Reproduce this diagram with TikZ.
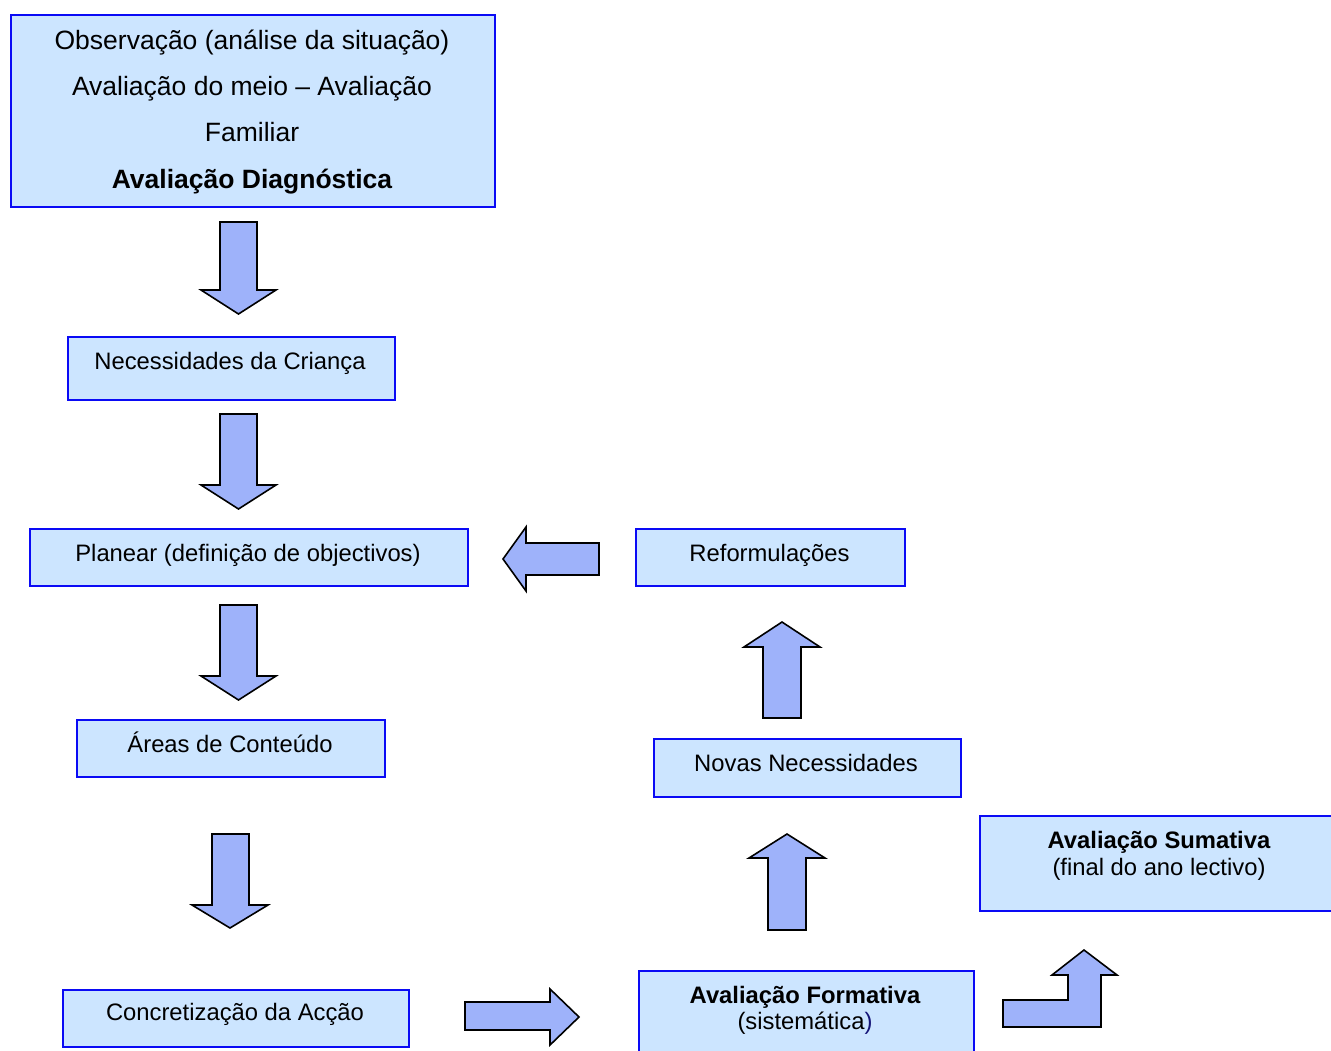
\documentclass[tikz,border=0pt]{standalone}
\usepackage{fontspec}
\setmainfont{Liberation Sans}
\definecolor{boxfill}{RGB}{204,229,255}
\definecolor{boxline}{RGB}{10,10,245}
\definecolor{arrowfill}{RGB}{158,178,250}
\definecolor{navyblue}{RGB}{20,20,120}
\tikzset{
  box/.style={draw=boxline, fill=boxfill, line width=1.8pt, anchor=north west, inner sep=0pt},
  blockarrow/.style={draw=black, fill=arrowfill, line width=1.6pt, line join=miter},
  lbl/.style={inner sep=0pt, anchor=base, font=\fontsize{23.8}{28}\selectfont},
  biglbl/.style={inner sep=0pt, anchor=base, font=\fontsize{26.5}{32}\selectfont},
}
\begin{document}
\begin{tikzpicture}[x=1pt,y=-1pt]
\useasboundingbox (0,0) rectangle (1331,1050);
\clip (0,0) rectangle (1331,1050);
\fill[white] (0,0) rectangle (1331,1050);

% boxes
\node[box, minimum width=484pt, minimum height=192pt] (obs) at (10,14) {};
\node[box, minimum width=327pt, minimum height=63pt] (nec) at (67,336) {};
\node[box, minimum width=438pt, minimum height=57pt] (plan) at (29,528) {};
\node[box, minimum width=269pt, minimum height=57pt] (ref) at (635,528) {};
\node[box, minimum width=308pt, minimum height=57pt] (areas) at (76,719) {};
\node[box, minimum width=307pt, minimum height=58pt] (novas) at (653,738) {};
\node[box, minimum width=370pt, minimum height=95pt] (sum) at (979,815) {};
\node[box, minimum width=346pt, minimum height=57pt] (conc) at (62,989) {};
\node[box, minimum width=335pt, minimum height=100pt] (form) at (638,970) {};

% texts
\node[biglbl] (obs-1) at (252,49.5) {Observação (análise da situação)};
\node[biglbl] (obs-2) at (252,95.5) {Avaliação do meio – Avaliação};
\node[biglbl] (obs-3) at (252,141.5) {Familiar};
\node[biglbl, font=\fontsize{26.5}{32}\selectfont\bfseries] (obs-4) at (252,188) {Avaliação Diagnóstica};
\node[lbl] (nec-t) at (230,369) {Necessidades da Criança};
\node[lbl] (plan-t) at (248,561) {Planear (definição de objectivos)};
\node[lbl] (ref-t) at (769.5,561) {Reformulações};
\node[lbl] (areas-t) at (230,752) {Áreas de Conteúdo};
\node[lbl] (novas-t) at (806,771) {Novas Necessidades};
\node[lbl, font=\fontsize{23.8}{28}\selectfont\bfseries] (sum-1) at (1159,848) {Avaliação Sumativa};
\node[lbl] (sum-2) at (1159,875) {(final do ano lectivo)};
\node[lbl] (conc-t) at (235,1020) {Concretização da Acção};
\node[lbl, font=\fontsize{23.8}{28}\selectfont\bfseries] (form-1) at (805,1003) {Avaliação Formativa};
\node[lbl] (form-2) at (805,1029) {(sistemática\textcolor{navyblue}{)}};

% block arrows
\draw[blockarrow] (220,222) -- (257,222) -- (257,290) -- (276,290) -- (238.5,314) -- (201,290) -- (220,290) -- cycle;
\draw[blockarrow] (220,414) -- (257,414) -- (257,485) -- (276,485) -- (238.5,509) -- (201,485) -- (220,485) -- cycle;
\draw[blockarrow] (220,605) -- (257,605) -- (257,676) -- (276,676) -- (238.5,700) -- (201,676) -- (220,676) -- cycle;
\draw[blockarrow] (212,834) -- (249,834) -- (249,905) -- (268,905) -- (230,928) -- (192,905) -- (212,905) -- cycle;
\draw[blockarrow] (599,543) -- (599,575) -- (526,575) -- (526,591) -- (503,559) -- (526,527) -- (526,543) -- cycle;
\draw[blockarrow] (763,718) -- (801,718) -- (801,647) -- (820,647) -- (782,622) -- (744,647) -- (763,647) -- cycle;
\draw[blockarrow] (768,930) -- (806,930) -- (806,858) -- (825,858) -- (787,834) -- (749,858) -- (768,858) -- cycle;
\draw[blockarrow] (465,1002) -- (550,1002) -- (550,989) -- (579,1017) -- (550,1045) -- (550,1030) -- (465,1030) -- cycle;
\draw[blockarrow] (1003,1000) -- (1068,1000) -- (1068,975) -- (1052,975) -- (1084,950) -- (1117,975) -- (1101,975) -- (1101,1027) -- (1003,1027) -- cycle;
\end{tikzpicture}
\end{document}
